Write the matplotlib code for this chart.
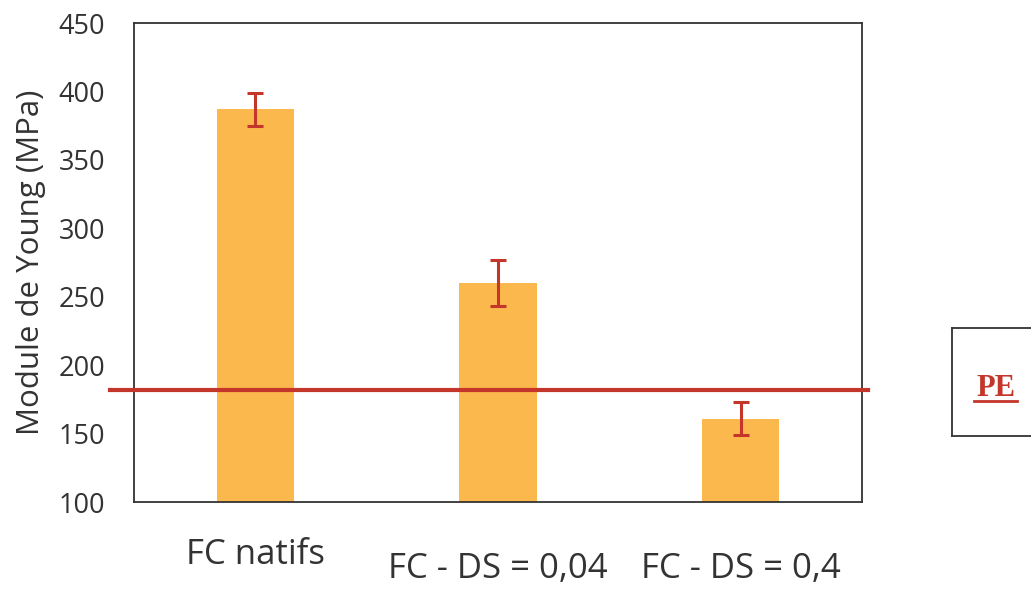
import matplotlib
matplotlib.use("Agg")
import matplotlib.pyplot as plt

categories = ["FC natifs", "FC - DS = 0,04", "FC - DS = 0,4"]
young_modulus = [387, 260, 161]
errors = [12, 17, 12]
pe_value = 182
y_ticks = [100, 150, 200, 250, 300, 350, 400, 450]

bar_color = "#FBB84C"
red = "#C4352A"

plt.rcParams["font.family"] = ["Open Sans", "DejaVu Sans"]

fig = plt.figure(figsize=(10.31, 5.89), dpi=100)
ax = fig.add_axes([0.130, 0.1477, 0.706, 0.813])

x = range(len(categories))
ax.bar(x, young_modulus, width=0.32, color=bar_color, zorder=2)
ax.errorbar(x, young_modulus, yerr=errors, fmt="none", ecolor=red,
            elinewidth=2.2, capsize=6, capthick=2.2, zorder=3)

# reference line for PE, drawn slightly past the frame like the original
ax.axhline(pe_value, xmin=-0.033, xmax=1.008, color=red, linewidth=3,
           clip_on=False, zorder=4)

ax.set_xlim(-0.5, 2.5)
ax.set_ylim(100, 450)
ax.set_yticks(y_ticks)
ax.tick_params(axis="y", length=0, labelsize=19.5, pad=21, labelcolor="#333333")
ax.set_xticks(list(x))
ax.set_xticklabels(categories, fontsize=25, color="#333333")
ax.tick_params(axis="x", length=0)
ticks = ax.xaxis.get_major_ticks()
ticks[0].set_pad(26)
for t in ticks[1:]:
    t.set_pad(36)

ax.set_ylabel("Module de Young (MPa)", fontsize=22.5, color="#333333", labelpad=9)

for s in ax.spines.values():
    s.set_color("#333333")
    s.set_linewidth(1.3)

# legend-like box on the right
box = fig.add_axes([952 / 1031, (589 - 436) / 589, 0.09, 108 / 589])
box.set_xticks([])
box.set_yticks([])
box.set_xlim(0, 1)
box.set_ylim(0, 1)
for s in box.spines.values():
    s.set_color("#333333")
    s.set_linewidth(1.3)
box.text(0.47, 0.37, "PE", color=red, fontsize=22, fontweight="bold",
         family="Liberation Serif", ha="center", va="baseline")
box.plot([0.24, 0.70], [0.32, 0.32], color=red, linewidth=2)

fig.savefig("out.png", dpi=100)
